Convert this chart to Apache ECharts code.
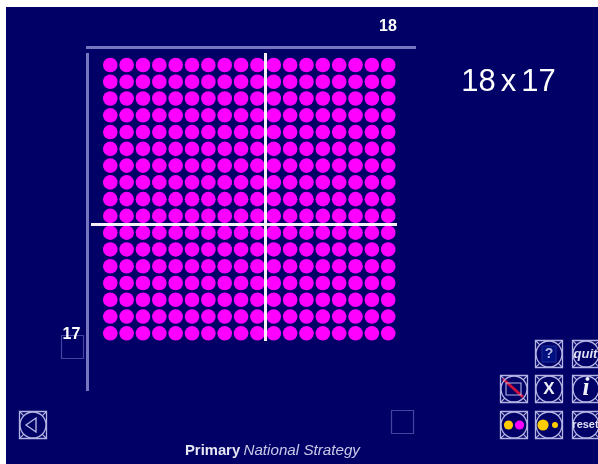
<!DOCTYPE html>
<html><head><meta charset="utf-8">
<style>html,body{margin:0;padding:0;background:#fff}#c{width:598px;height:464px;filter:blur(0.35px)}</style>
<script src="https://cdn.jsdelivr.net/npm/echarts@6/dist/echarts.min.js"></script>
</head><body><div id="c"></div>
<script>
const columnCount = 18;
const rowCount = 17;
const dotColor = '#ff00ff';
const titleParts = ['18', 'x', '17'];
const columnLabel = '18';
const rowLabel = '17';
const points = [];
for (let c = 1; c <= columnCount; c++) for (let r = 1; r <= rowCount; r++) points.push([c, r]);

const NAVY = '#000066', EDGE = '#b4b4e4', AXIS = '#7474c0', FF = '"Liberation Sans",Arial,sans-serif';
const ln = (x1, y1, x2, y2, stroke, lineWidth) => ({type:'line', shape:{x1,y1,x2,y2}, style:{stroke, lineWidth}, z:5});
const txt = (x, y, text, font, fill, align) => ({type:'text', x, y, style:{text, font, fill:fill||'#fff', textAlign:align||'center', textVerticalAlign:'middle'}, z:8});
function button(x, y, w, h, inner) {
  const cx = x + w/2, cy = y + h/2, r = w/2 - 0.5, d = r*0.707, st = {stroke:EDGE, lineWidth:1.3};
  const out = [
    {type:'rect', shape:{x,y,width:w,height:h}, style:{fill:'none', ...st}, z:6},
    {type:'circle', shape:{cx,cy,r}, style:{fill:'none', ...st}, z:6},
    ln(x,y,cx-d,cy-d,EDGE,1.2), ln(x+w,y,cx+d,cy-d,EDGE,1.2), ln(x,y+h,cx-d,cy+d,EDGE,1.2), ln(x+w,y+h,cx+d,cy+d,EDGE,1.2)
  ];
  return out.concat(inner(cx, cy));
}
const dot = (cx, cy, r, fill) => ({type:'circle', shape:{cx,cy,r}, style:{fill}, z:8});
const graphics = [
  {type:'rect', shape:{x:6,y:7,width:592,height:457}, style:{fill:NAVY}, z:-10, silent:true},
  ln(86,47.5,416,47.5,AXIS,3), ln(87.5,53,87.5,391,AXIS,3),
  ln(265.5,53,265.5,341,'#f8effb',3), ln(91,224.5,397,224.5,'#f8effb',3),
  {type:'rect', shape:{x:61.5,y:335.5,width:22,height:23}, style:{fill:'none',stroke:'#4444a0',lineWidth:1.2}, z:5},
  {type:'rect', shape:{x:391.5,y:410.5,width:22,height:23}, style:{fill:'none',stroke:'#4444a0',lineWidth:1.2}, z:5},
  txt(388,27,columnLabel,'bold 16px '+FF), txt(71.5,335,rowLabel,'bold 16px '+FF),
  {type:'text', x:508.5, y:82, style:{text:`{a|${titleParts[0]}}{s| }{a|${titleParts[1]}}{s| }{a|${titleParts[2]}}`, textAlign:'center', textVerticalAlign:'middle', rich:{a:{font:'31px '+FF,fill:'#fff'},s:{font:'18px '+FF,fill:'#fff'}}}, z:8},
  {type:'text', x:185, y:451, style:{text:'{b|Primary} {i|National Strategy}', textVerticalAlign:'middle', rich:{b:{font:'bold 14.8px '+FF,fill:'#e6e6f4'},i:{font:'italic 15.2px '+FF,fill:'#c8c8e8'}}}, z:8},
  ...button(19.5,411.5,27,27,(cx,cy)=>[{type:'polygon',shape:{points:[[cx-7,cy],[cx+3,cy-7],[cx+3,cy+7]]},style:{fill:'none',stroke:EDGE,lineWidth:1.4},z:8}]),
  ...button(535.5,340.5,27,27,(cx,cy)=>[
    {type:'rect',shape:{x:cx-7,y:cy-8,width:14,height:16},style:{fill:'#000f80',stroke:'#20309a',lineWidth:1},z:7},
    txt(cx,cy,'?','bold 14px '+FF,'#b4b4e0')]),
  ...button(572.5,340.5,27,27,(cx,cy)=>[txt(cx-0.5,cy,'quit','italic bold 13px '+FF,'#e0e0f4')]),
  ...button(500.5,375.5,27,27,(cx,cy)=>[
    {type:'rect',shape:{x:cx-8,y:cy-6,width:15,height:12},style:{fill:'none',stroke:EDGE,lineWidth:1.1},z:7},
    ln(cx-11,cy-10,cx+9,cy+8,'#d0103c',3)]),
  ...button(535.5,375.5,27,27,(cx,cy)=>[txt(cx,cy,'X','bold 17px '+FF,'#f0f0fa')]),
  ...button(572.5,375.5,27,27,(cx,cy)=>[txt(cx,cy,'i','italic bold 25px "Liberation Serif",serif','#f0f0fa')]),
  ...button(500.5,411.5,27,27,(cx,cy)=>[dot(cx-5.5,cy,4.6,'#ffcc00'),dot(cx+5.5,cy,4.6,'#ff00ff')]),
  ...button(535.5,411.5,27,27,(cx,cy)=>[dot(cx-6,cy,5.6,'#ffcc00'),dot(cx+6,cy,3,'#ffcc00')]),
  ...button(572.5,411.5,27,27,(cx,cy)=>[txt(cx-0.5,cy,'reset','bold 11px '+FF,'#e0e0f4')])
];
const chart = echarts.init(document.getElementById('c'), null, {renderer:'canvas'});
chart.setOption({
  animation:false,
  backgroundColor:'#fff',
  grid:{left:102.1,top:56.6,width:294.3,height:285.1},
  xAxis:{type:'value',min:0.5,max:columnCount+0.5,show:false},
  yAxis:{type:'value',min:0.5,max:rowCount+0.5,show:false,inverse:true},
  series:[{type:'scatter',data:points,symbol:'circle',symbolSize:14.6,itemStyle:{color:dotColor,opacity:1},silent:true,z:3}],
  graphic:{elements:graphics}
});
</script></body></html>
